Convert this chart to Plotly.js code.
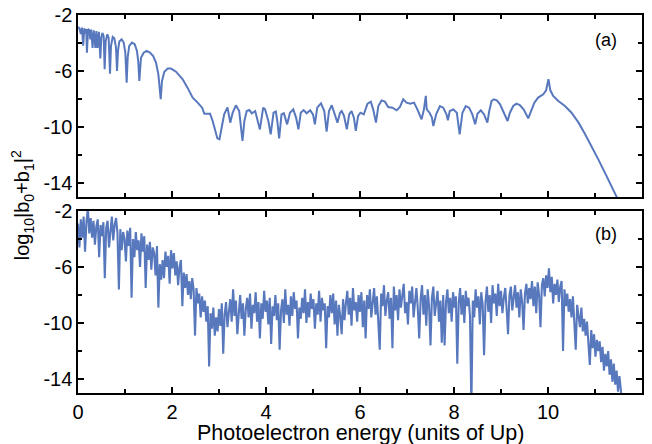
<!DOCTYPE html>
<html><head><meta charset="utf-8">
<script src="https://cdn.plot.ly/plotly-3.0.1.min.js"></script>
<style>html,body{margin:0;padding:0;background:#fff}</style>
</head><body><div id="chart" style="width:652px;height:444px"></div>
<script>
// Panel (a): photoelectron energy (units of Up) and log10|b0+b1|^2
const aEnergy = [0.000,0.030,0.060,0.085,0.110,0.135,0.160,0.175,0.190,0.215,0.245,0.260,0.280,0.310,0.335,0.370,0.390,0.415,0.445,0.475,
0.496,0.518,0.546,0.567,0.589,0.624,0.652,0.681,0.702,0.738,0.773,0.809,0.830,0.851,0.879,0.929,0.972,1.007,1.035,1.057,
1.090,1.149,1.206,1.255,1.284,1.305,1.340,1.397,1.460,1.530,1.600,1.660,1.710,1.760,1.787,1.837,1.908,1.980,2.085,2.227,
2.330,2.440,2.546,2.640,2.688,2.760,2.810,2.865,2.920,2.965,3.010,3.050,3.110,3.180,3.240,3.290,3.360,3.430,3.500,3.540,
3.590,3.645,3.700,3.770,3.870,3.940,3.980,4.050,4.100,4.160,4.210,4.240,4.280,4.330,4.380,4.450,4.510,4.580,4.640,4.690,
4.740,4.800,4.865,4.940,5.000,5.040,5.090,5.170,5.240,5.290,5.340,5.400,5.470,5.520,5.575,5.610,5.660,5.720,5.770,5.820,
5.870,5.910,5.960,6.010,6.080,6.160,6.230,6.280,6.340,6.390,6.460,6.530,6.600,6.690,6.780,6.850,6.920,6.990,7.070,7.150,
7.220,7.310,7.360,7.400,7.420,7.480,7.530,7.560,7.620,7.700,7.770,7.840,7.870,7.910,7.985,8.060,8.120,8.180,8.250,8.320,
8.390,8.450,8.500,8.570,8.640,8.710,8.750,8.800,8.850,8.910,8.980,9.050,9.100,9.140,9.190,9.260,9.330,9.400,9.480,9.530,
9.580,9.640,9.710,9.790,9.900,9.960,10.010,10.050,10.110,10.220,10.360,10.500,10.650,10.790,10.930,11.070,11.210,11.350,11.460,11.520];
const aLog = [-2.86,-2.95,-3.35,-2.90,-4.20,-2.95,-3.30,-3.00,-4.70,-3.00,-3.10,-3.75,-3.05,-4.35,-3.10,-4.35,-3.15,-4.35,-3.20,-5.10,
-3.62,-3.28,-3.50,-5.88,-3.86,-3.38,-3.62,-6.19,-4.21,-3.57,-3.67,-4.33,-6.00,-4.57,-3.90,-3.74,-3.97,-4.69,-6.83,-5.05,
-4.21,-3.97,-4.09,-4.57,-5.40,-6.71,-5.05,-4.69,-4.57,-4.69,-4.93,-5.40,-6.24,-8.02,-6.71,-6.05,-5.83,-5.83,-6.05,-6.59,
-7.19,-7.90,-8.26,-8.62,-9.05,-9.02,-9.05,-9.57,-10.28,-10.81,-10.88,-10.05,-9.10,-8.60,-9.69,-8.98,-8.45,-8.86,-11.00,-9.57,
-8.86,-8.79,-9.02,-8.86,-10.17,-8.62,-8.74,-9.57,-10.52,-8.98,-8.90,-9.57,-10.81,-9.10,-9.02,-9.81,-8.98,-8.74,-9.33,-10.17,
-8.98,-8.79,-9.02,-8.81,-9.10,-9.81,-8.62,-8.31,-8.86,-10.33,-8.86,-8.45,-9.10,-9.69,-8.98,-8.86,-9.21,-10.17,-9.10,-8.86,
-9.33,-10.28,-9.21,-8.98,-9.10,-8.33,-8.19,-8.74,-9.69,-8.50,-8.10,-8.19,-8.57,-8.62,-8.81,-8.57,-8.02,-8.26,-8.33,-8.26,
-8.74,-9.45,-8.74,-7.78,-8.74,-8.98,-9.33,-9.93,-9.10,-8.50,-8.62,-9.10,-9.52,-8.86,-8.74,-8.98,-10.52,-8.98,-8.50,-8.62,
-9.10,-9.81,-9.05,-8.81,-9.10,-9.69,-8.86,-8.14,-8.02,-8.10,-8.38,-8.86,-9.21,-9.57,-8.98,-8.50,-8.33,-8.43,-8.74,-9.10,
-9.38,-8.86,-8.26,-7.90,-7.66,-7.38,-6.59,-7.38,-7.78,-8.14,-8.50,-8.98,-9.69,-10.52,-11.36,-12.31,-13.26,-14.21,-15.00,-15.40];

// Panel (b): sampled every bStep Up starting at bStart
const bStart = 0;
const bStep = 0.03;
const bLog = [
-2.9,-4.6,-2.6,-3.9,-2.4,-4.9,-2.8,-1.8,-3.6,-2.5,
-3.9,-2.7,-4.4,-3.1,-2.6,-5.3,-3.0,-3.8,-2.8,-6.8,
-3.2,-2.7,-4.6,-3.4,-2.4,-4.1,-3.0,-2.5,-3.6,-7.6,
-3.3,-4.8,-3.5,-4.0,-5.6,-3.4,-4.5,-3.2,-8.2,-4.0,
-5.3,-3.5,-4.8,-4.1,-6.0,-3.6,-4.9,-3.8,-7.5,-4.4,
-5.5,-4.2,-6.2,-4.6,-5.0,-6.6,-4.5,-8.9,-5.8,-6.9,
-5.5,-6.8,-4.9,-6.0,-5.2,-7.2,-4.8,-6.1,-5.0,-6.6,
-5.6,-7.3,-6.0,-5.5,-8.8,-6.4,-7.5,-6.5,-8.0,-7.0,
-8.3,-6.8,-7.6,-10.9,-7.5,-8.6,-7.9,-9.6,-8.1,-9.2,
-8.4,-9.9,-8.8,-13.1,-9.3,-10.4,-8.9,-10.9,-9.6,-10.6,
-9.0,-10.2,-8.6,-12.2,-9.4,-8.5,-10.3,-9.2,-8.3,-9.9,
-7.6,-9.5,-8.4,-10.8,-8.9,-8.0,-9.7,-8.6,-10.9,-9.0,
-8.2,-9.6,-7.9,-10.4,-8.7,-9.3,-7.8,-9.9,-8.5,-11.1,
-8.6,-9.7,-7.7,-9.2,-8.4,-10.1,-8.2,-11.5,-8.8,-9.5,
-8.0,-9.8,-8.6,-11.9,-9.1,-8.3,-10.0,-7.6,-9.4,-8.7,
-10.2,-8.1,-9.5,-7.8,-9.0,-8.4,-11.1,-8.9,-9.7,-8.2,
-9.3,-7.6,-10.0,-8.5,-9.6,-7.9,-9.0,-8.3,-10.4,-8.6,
-9.4,-7.7,-9.9,-8.2,-9.1,-8.6,-11.8,-8.8,-9.6,-8.0,
-9.3,-7.9,-10.1,-8.4,-10.9,-8.7,-9.5,-10.8,-8.3,-9.8,
-8.6,-7.7,-9.4,-8.2,-10.2,-7.5,-9.1,-8.5,-9.9,-8.0,
-9.2,-7.8,-10.3,-8.4,-11.1,-8.0,-9.0,-7.6,-9.6,-8.3,
-7.5,-9.4,-8.1,-10.0,-11.9,-7.9,-8.8,-7.3,-9.5,-8.4,
-7.8,-9.7,-8.2,-11.8,-7.4,-9.1,-8.0,-9.8,-7.6,-8.9,
-8.1,-7.2,-9.3,-8.5,-10.1,-7.7,-8.6,-7.4,-9.6,-8.2,
-7.5,-9.0,-11.1,-8.3,-7.3,-9.4,-8.0,-10.2,-7.6,-8.8,
-11.6,-8.2,-7.4,-9.5,-8.6,-7.7,-9.9,-8.4,-11.4,-8.0,
-11.6,-8.5,-7.6,-9.3,-8.2,-9.9,-7.8,-8.9,-8.1,-12.9,
-8.6,-7.5,-9.4,-8.0,-10.0,-7.7,-8.8,-8.2,-9.5,-16.0,
-8.4,-9.6,-7.6,-8.9,-8.1,-10.1,-7.8,-8.7,-12.3,-8.5,
-7.4,-9.2,-8.0,-10.0,-7.3,-8.6,-7.9,-9.5,-7.2,-8.8,
-7.7,-9.3,-8.2,-7.5,-9.0,-10.8,-8.0,-7.4,-9.1,-8.1,
-7.3,-8.9,-7.8,-9.6,-7.6,-8.5,-10.5,-7.9,-7.2,-8.6,
-7.5,-8.3,-7.0,-8.8,-7.4,-9.3,-7.1,-8.0,-10.3,-7.3,
-6.8,-8.1,-6.6,-7.5,-6.1,-7.8,-6.7,-8.6,-7.2,-8.0,
-6.9,-8.5,-7.4,-7.0,-12.0,-7.6,-8.8,-7.9,-9.2,-8.3,
-9.6,-8.1,-10.0,-11.9,-8.7,-9.4,-10.3,-8.9,-10.6,-9.7,
-10.9,-9.9,-11.4,-13.0,-10.5,-11.8,-10.8,-12.4,-11.2,-12.0,
-11.3,-12.8,-11.7,-13.4,-12.2,-13.1,-12.0,-13.7,-12.6,-14.2,
-12.9,-14.4,-13.4,-14.9,-13.8,-15.0,-15.8];

const yTickVals = [-2, -6, -10, -14];
const yTickText = ['-2', '-6', '-10', '-14'];
const xTickVals = [0, 2, 4, 6, 8, 10, 12];
const xTickText = ['0', '2', '4', '6', '8', '10', '12'];

const lineColor = '#5878be';
const FONT = 'Liberation Sans, Arial, Helvetica, sans-serif';

const traces = [
  {x: aEnergy, y: aLog, xaxis: 'x', yaxis: 'y', type: 'scatter', mode: 'lines',
   line: {color: lineColor, width: 2}, hoverinfo: 'skip'},
  {x0: bStart, dx: bStep, y: bLog, xaxis: 'x2', yaxis: 'y2', type: 'scatter', mode: 'lines',
   line: {color: lineColor, width: 2.1}, hoverinfo: 'skip'}
];

const axBase = {
  showline: true, linecolor: '#000', linewidth: 1.7, mirror: 'ticks',
  ticks: 'inside', ticklen: 6, tickwidth: 1.6, tickcolor: '#000',
  showgrid: false, zeroline: false,
  tickfont: {family: FONT, size: 20, color: '#000'}
};
const minorTicks = {ticks: 'inside', ticklen: 4, tickwidth: 1.5, tickcolor: '#000'};
const xAx = Object.assign({}, axBase, {
  range: [0, 12], tickmode: 'array', tickvals: xTickVals, ticktext: xTickText,
  minor: Object.assign({dtick: 1, tick0: 0}, minorTicks)
});
const yAx = Object.assign({}, axBase, {
  range: [-15, -2], tickmode: 'array', tickvals: yTickVals, ticktext: yTickText,
  minor: Object.assign({dtick: 2, tick0: 0}, minorTicks)
});

const layout = {
  width: 652, height: 444,
  margin: {l: 78, r: 10, t: 15, b: 51},
  paper_bgcolor: '#fff', plot_bgcolor: '#fff',
  showlegend: false,
  font: {family: FONT, color: '#000'},
  xaxis: Object.assign({}, xAx, {anchor: 'y', matches: 'x2', showticklabels: false}),
  yaxis: Object.assign({}, yAx, {domain: [0.5185, 1], anchor: 'x'}),
  xaxis2: Object.assign({}, xAx, {anchor: 'y2'}),
  yaxis2: Object.assign({}, yAx, {domain: [0, 0.4815], anchor: 'x2'}),
  annotations: [
    {text: 'log<sub>10</sub>|b<sub>0</sub>+b<sub>1</sub>|<sup>2</sup>', xref: 'paper', yref: 'paper',
     x: -0.099, y: 0.497, xanchor: 'center', yanchor: 'middle', textangle: -90, showarrow: false,
     font: {family: FONT, size: 20, color: '#000'}},
    {text: 'Photoelectron energy (units of Up)', xref: 'paper', yref: 'paper',
     x: 0.5, y: -0.106, xanchor: 'center', yanchor: 'middle', showarrow: false,
     font: {family: FONT, size: 21.5, color: '#000'}},
    {text: '(a)', xref: 'paper', yref: 'paper', x: 0.936, y: 0.934, xanchor: 'center', yanchor: 'middle',
     showarrow: false, font: {family: FONT, size: 18, color: '#000'}},
    {text: '(b)', xref: 'paper', yref: 'paper', x: 0.936, y: 0.421, xanchor: 'center', yanchor: 'middle',
     showarrow: false, font: {family: FONT, size: 18, color: '#000'}}
  ]
};

Plotly.newPlot('chart', traces, layout, {staticPlot: true, displayModeBar: false});
</script>
</body></html>
